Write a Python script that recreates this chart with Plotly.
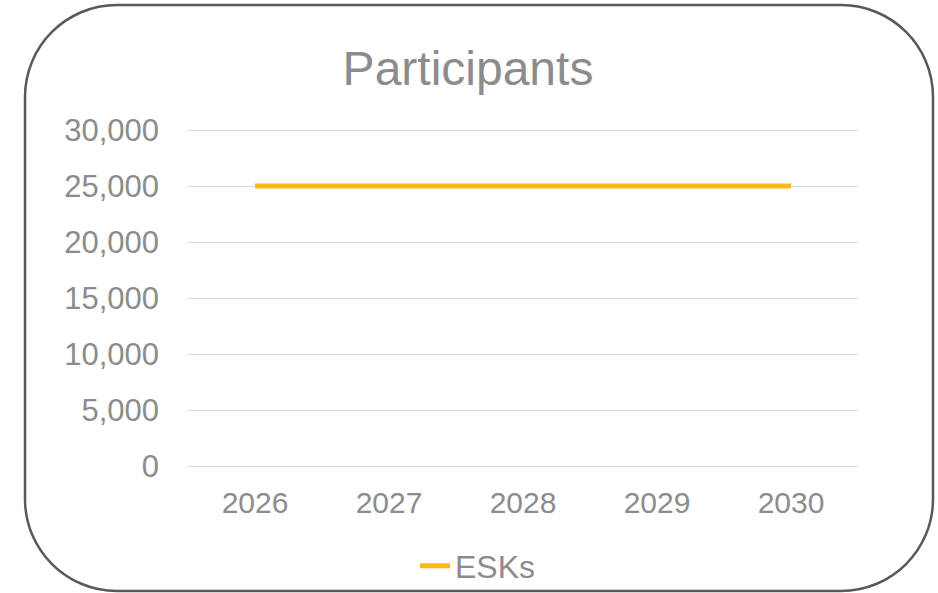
import plotly.graph_objects as go

years = ["2026", "2027", "2028", "2029", "2030"]
esks = [25000, 25000, 25000, 25000, 25000]
y_ticks = [0, 5000, 10000, 15000, 20000, 25000, 30000]

W, H = 938, 593
L, R = 188, 858
PAD = 2  # extra pixels so edge gridlines are drawn
T, B = 130 - PAD, 466 + PAD
unit = 30000 / 336.0  # data units per pixel
y_range = [-PAD * unit, 30000 + PAD * unit]

def px(X):
    return (X - L) / (R - L)

def py(Y):
    return (B - Y) / (B - T)

# rounded border rectangle in pixel coordinates
x0, x1, y0, y1, r = 25, 933, 5, 591, 92
k = 0.5523 * r
def P(X, Y):
    return f"{px(X):.5f},{py(Y):.5f}"
path = (
    f"M {P(x0 + r, y0)} L {P(x1 - r, y0)} "
    f"C {P(x1 - r + k, y0)} {P(x1, y0 + r - k)} {P(x1, y0 + r)} "
    f"L {P(x1, y1 - r)} "
    f"C {P(x1, y1 - r + k)} {P(x1 - r + k, y1)} {P(x1 - r, y1)} "
    f"L {P(x0 + r, y1)} "
    f"C {P(x0 + r - k, y1)} {P(x0, y1 - r + k)} {P(x0, y1 - r)} "
    f"L {P(x0, y0 + r)} "
    f"C {P(x0, y0 + r - k)} {P(x0 + r - k, y0)} {P(x0 + r, y0)} Z"
)

grey = "#8c8c8c"
font = "Liberation Sans, Arial, sans-serif"

fig = go.Figure()
fig.add_trace(go.Scatter(
    x=years, y=esks, mode="lines", name="ESKs",
    line=dict(color="#FFB71B", width=5),
))

fig.update_layout(
    width=W, height=H,
    margin=dict(l=L, r=W - R, t=T, b=H - B, autoexpand=False),
    paper_bgcolor="white", plot_bgcolor="white",
    font=dict(family=font, color=grey, size=30),
    title=dict(text="Participants", x=468 / W, xref="container", xanchor="center",
               y=1 - 68 / H, yref="container", yanchor="middle",
               font=dict(size=48, color=grey, family=font)),
    showlegend=True,
    legend=dict(orientation="h", x=478 / W, xref="container", xanchor="center",
                y=1 - 566 / H, yref="container", yanchor="middle",
                font=dict(size=32, color=grey), bgcolor="rgba(0,0,0,0)"),
    shapes=[dict(type="path", path=path, xref="paper", yref="paper",
                 line=dict(color="#595959", width=2.5), layer="above")],
)
fig.update_xaxes(type="category", range=[-0.5, 4.5], showgrid=False, showline=False,
                 zeroline=False, ticks="", ticklabelstandoff=16 - PAD, automargin=False,
                 tickfont=dict(size=30, color=grey))
fig.update_yaxes(range=y_range, tickvals=y_ticks, tickformat=",", showgrid=True,
                 gridcolor="#d9d9d9", gridwidth=1, zeroline=False, showline=False,
                 ticks="", ticklabelstandoff=28, automargin=False,
                 tickfont=dict(size=31, color=grey))

fig.write_html(
    "out.html",
    config={"displayModeBar": False},
    post_script="document.body.style.margin='0';document.body.style.padding='0';",
)
